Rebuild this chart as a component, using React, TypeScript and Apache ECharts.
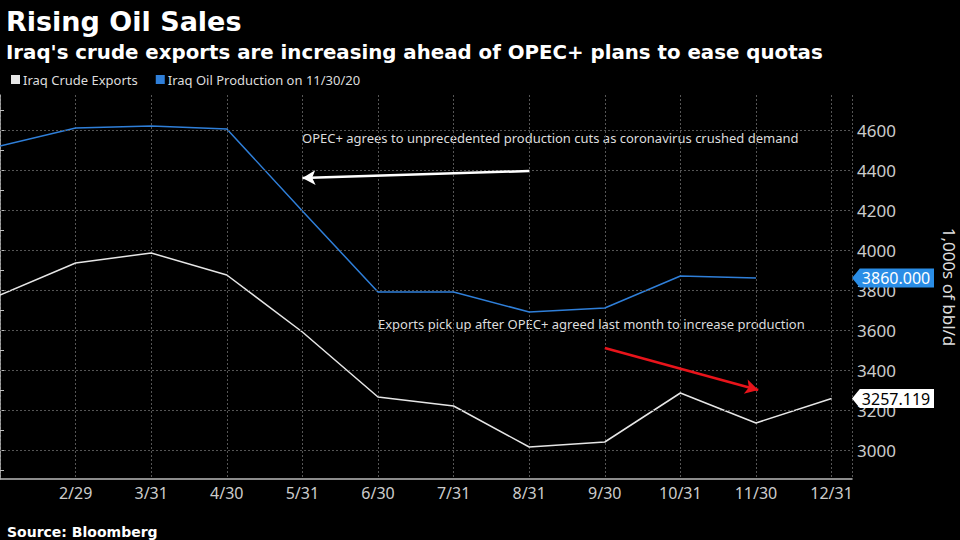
import React, { useEffect, useRef } from "react";
import * as echarts from "echarts";

const months = ["1/31", "2/29", "3/31", "4/30", "5/31", "6/30", "7/31", "8/31", "9/30", "10/31", "11/30", "12/31"];
const exportsData = [3775, 3935, 3985, 3875, 3590, 3265, 3220, 3015, 3040, 3285, 3135, 3257.119];
const productionData: (number | null)[] = [4520, 4610, 4620, 4605, 4195, 3790, 3790, 3690, 3710, 3870, 3860, null];
const yLabelValues = [3000, 3200, 3400, 3600, 3800, 4000, 4200, 4400, 4600];
const yTickValues = [2900, 3000, 3100, 3200, 3300, 3400, 3500, 3600, 3700, 3800, 3900, 4000, 4100, 4200, 4300, 4400, 4500, 4600, 4700];
const seriesNames = ["Iraq Crude Exports", "Iraq Oil Production on 11/30/20"];
const note1 = "OPEC+ agrees to unprecedented production cuts as coronavirus crushed demand";
const note2 = "Exports pick up after OPEC+ agreed last month to increase production";
// annotation arrows in data space: [monthIndex, value]
const arrow1 = [[7, 4395], [4, 4360]];
const arrow2 = [[8, 3510], [10.03, 3300]];

const X_MAX = 11.27;
const Y_MIN = 2855;
const Y_MAX = 4775;

const WHITE = "#e6e6e6";
const BLUE = "#2f7fd9";
const FONT = "Noto Sans";
const BOLD = "DejaVu Sans";
const GRID = "#555";

const tagPath = "path://M0,10L8,0L84,0L84,20L8,20Z";

function lastValue(arr: (number | null)[]): number {
  for (let i = arr.length - 1; i >= 0; i--) if (arr[i] != null) return arr[i] as number;
  return 0;
}

export default function App() {
  const ref = useRef<HTMLDivElement>(null);
  useEffect(() => {
    const chart = echarts.init(ref.current!, undefined, { renderer: "svg" });
    const lastExport = lastValue(exportsData);
    const lastProd = lastValue(productionData);
    chart.setOption({
      animation: false,
      backgroundColor: "#000",
      title: [
        { text: "Rising Oil Sales", left: 1, top: 3, textStyle: { color: "#fff", fontFamily: BOLD, fontWeight: "bold", fontSize: 27 } },
        { text: "Iraq's crude exports are increasing ahead of OPEC+ plans to ease quotas", left: 1, top: 37, textStyle: { color: "#fff", fontFamily: BOLD, fontWeight: "bold", fontSize: 19.8 } },
        { text: "Source: Bloomberg", left: 2, top: 520, textStyle: { color: "#fff", fontFamily: BOLD, fontWeight: "bold", fontSize: 14 } },
      ],
      legend: {
        left: 6,
        top: 68,
        itemWidth: 9,
        itemHeight: 9,
        itemGap: 18,
        icon: "rect",
        textStyle: { color: "#ddd", fontFamily: FONT, fontSize: 13, padding: [0, 0, 0, -2] },
        data: seriesNames,
      },
      grid: { left: 0, right: 108, top: 95, bottom: 61, containLabel: false, outerBoundsMode: "none" },
      xAxis: {
        type: "value",
        min: 0,
        max: X_MAX,
        interval: 1,
        axisLine: { show: true, lineStyle: { color: "#bbb", width: 1.5 } },
        axisTick: { show: false },
        axisLabel: {
          color: "#ccc",
          fontFamily: FONT,
          fontSize: 16,
          margin: 6,
          formatter: (v: number) => (v === 0 ? "" : months[Math.round(v)] ?? ""),
        },
        splitLine: { show: true, lineStyle: { color: GRID, type: [2, 2], width: 1 } },
      },
      yAxis: {
        type: "value",
        position: "right",
        min: Y_MIN,
        max: Y_MAX,
        name: "1,000s of bbl/d",
        nameLocation: "middle",
        nameRotate: -90,
        nameGap: 89,
        nameTextStyle: { color: "#ddd", fontFamily: FONT, fontSize: 17 },
        axisLine: { show: true, lineStyle: { color: "#bbb", width: 1.5 } },
        axisTick: { show: true, customValues: yTickValues, length: 4, lineStyle: { color: "#bbb" } },
        axisLabel: {
          color: "#ccc",
          fontFamily: FONT,
          fontSize: 17,
          margin: 5,
          customValues: yLabelValues,
          formatter: (v: number) => String(v),
        },
        splitLine: { show: false },
      },
      graphic: [
        { type: "text", left: 302, top: 131, style: { text: note1, fill: "#ddd", font: `13px "${FONT}"` } },
        { type: "text", left: 378, top: 317, style: { text: note2, fill: "#ddd", font: `13px "${FONT}"` } },
      ],
      series: [
        {
          name: seriesNames[0],
          type: "line",
          data: exportsData.map((v, i) => [i, v]),
          showSymbol: false,
          symbol: "none",
          clip: false,
          lineStyle: { color: WHITE, width: 1.5 },
          itemStyle: { color: WHITE },
          z: 3,
          markLine: {
            silent: true,
            symbol: ["none", "none"],
            label: { show: false },
            lineStyle: { color: GRID, type: [2, 2], width: 1 },
            data: yLabelValues.map((v) => [{ coord: [0, v] }, { coord: [X_MAX, v] }]),
          },
          markPoint: {
            silent: true,
            symbol: tagPath,
            symbolSize: [82, 19],
            symbolOffset: [41, 0],
            itemStyle: { color: "#fff" },
            label: { show: true, color: "#000", fontFamily: FONT, fontSize: 16, offset: [3, 0], formatter: () => lastExport.toFixed(3) },
            data: [{ coord: [X_MAX, lastExport], value: lastExport }],
          },
        },
        {
          name: seriesNames[1],
          type: "line",
          data: productionData.map((v, i) => [i, v]),
          showSymbol: false,
          symbol: "none",
          clip: false,
          lineStyle: { color: BLUE, width: 1.5 },
          itemStyle: { color: BLUE },
          z: 3,
          markLine: {
            silent: true,
            symbol: ["none", "arrow"],
            symbolSize: [11, 13],
            label: { show: false },
            data: [
              [
                { coord: arrow1[0], lineStyle: { color: "#fff", width: 2.5, type: "solid" } },
                { coord: arrow1[1] },
              ],
              [
                { coord: arrow2[0], lineStyle: { color: "#e8141b", width: 2.5, type: "solid" } },
                { coord: arrow2[1] },
              ],
            ],
          },
          markPoint: {
            silent: true,
            symbol: tagPath,
            symbolSize: [82, 19],
            symbolOffset: [41, 0],
            itemStyle: { color: "#2a8de6" },
            label: { show: true, color: "#fff", fontFamily: FONT, fontSize: 16, offset: [3, 0], formatter: () => lastProd.toFixed(3) },
            data: [{ coord: [X_MAX, lastProd], value: lastProd }],
          },
        },
      ],
    });
    return () => chart.dispose();
  }, []);
  return <div ref={ref} style={{ width: 960, height: 540, position: "fixed", left: 0, top: 0 }} />;
}
